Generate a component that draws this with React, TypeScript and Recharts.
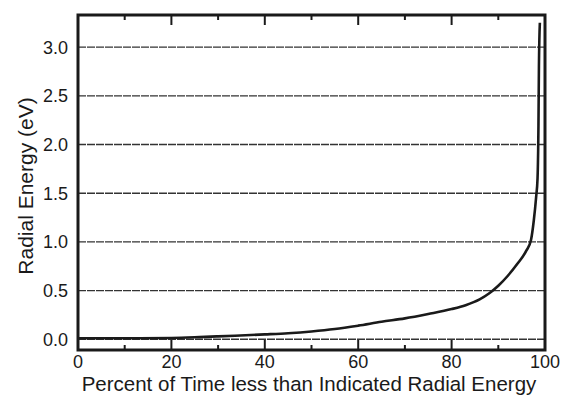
import React from 'react';
import { LineChart, Line, XAxis, YAxis, CartesianGrid, ReferenceArea } from 'recharts';

const percentTime = [0, 10, 20, 26, 30, 40, 45, 50, 55, 60, 65, 70, 75, 80, 83, 86, 88, 90, 92, 94, 96, 97, 97.6, 98.1, 98.4, 98.6, 98.7, 98.9];
const radialEnergy = [0.01, 0.01, 0.013, 0.022, 0.03, 0.05, 0.062, 0.08, 0.105, 0.14, 0.18, 0.215, 0.26, 0.31, 0.35, 0.41, 0.47, 0.55, 0.65, 0.77, 0.91, 1.02, 1.22, 1.46, 1.65, 2.2, 2.8, 3.25];
const xTicks = [0, 10, 20, 30, 40, 50, 60, 70, 80, 90, 100];
const yTicks = [0, 0.5, 1.0, 1.5, 2.0, 2.5, 3.0];

const data = percentTime.map((p, i) => ({ p, e: radialEnergy[i] }));

const FONT = '"Liberation Sans", Arial, Helvetica, sans-serif';
const TOP = 15;
const BOTTOM = 350;
const INK = '#1a1a1a';

// bottom labels plus inward ticks on both bottom and top edges
function FrameTick(props: any) {
  const { x, y, payload } = props;
  const v = payload.value;
  const major = v % 20 === 0;
  const len = major ? 10 : 5;
  return (
    <g>
      <line x1={x} x2={x} y1={BOTTOM} y2={BOTTOM - len} stroke={INK} strokeWidth={2} />
      <line x1={x} x2={x} y1={TOP} y2={TOP + len} stroke={INK} strokeWidth={2} />
      {major && (
        <text x={x} y={y} dy="0.71em" textAnchor="middle" fontFamily={FONT} fontSize={18} fill={INK}>
          {v}
        </text>
      )}
    </g>
  );
}

export default function App() {
  return (
    <div style={{ width: 561, height: 398, background: '#fff' }}>
      <style>{'body{margin:0}'}</style>
      <LineChart width={561} height={398} data={data} margin={{ top: TOP, right: 16, bottom: 0, left: 8 }}>
        <CartesianGrid xAxisId="b" yAxisId="l" vertical={false} stroke="#333" strokeWidth={1.4} strokeDasharray="8 1" />
        <XAxis
          xAxisId="b"
          dataKey="p"
          type="number"
          domain={[0, 100]}
          ticks={xTicks}
          interval={0}
          height={48}
          tickSize={0}
          tickMargin={5}
          axisLine={false}
          tick={<FrameTick />}
          label={{
            content: () => (
              <text x={309} y={391} textAnchor="middle" fontFamily={FONT} fontSize={20.5} fill={INK}>
                Percent of Time less than Indicated Radial Energy
              </text>
            ),
          }}
        />
        <YAxis
          yAxisId="l"
          type="number"
          domain={[-0.11, 3.33]}
          ticks={yTicks}
          interval={0}
          allowDataOverflow
          width={70}
          tickSize={0}
          tickMargin={10}
          axisLine={false}
          tick={{ fontFamily: FONT, fontSize: 18, fill: INK }}
          tickFormatter={(v: number) => v.toFixed(1)}
          label={{
            content: () => (
              <text
                x={25}
                y={186}
                transform="rotate(-90 25 186)"
                textAnchor="middle"
                dominantBaseline="central"
                fontFamily={FONT}
                fontSize={21}
                fill={INK}
              >
                Radial Energy (eV)
              </text>
            ),
          }}
        />
        <ReferenceArea
          xAxisId="b"
          yAxisId="l"
          x1={0}
          x2={100}
          y1={-0.11}
          y2={3.33}
          fill="none"
          fillOpacity={0}
          stroke={INK}
          strokeWidth={3}
          ifOverflow="visible"
        />
        <Line
          xAxisId="b"
          yAxisId="l"
          type="monotone"
          dataKey="e"
          stroke={INK}
          strokeWidth={2.6}
          dot={false}
          isAnimationActive={false}
        />
      </LineChart>
    </div>
  );
}
